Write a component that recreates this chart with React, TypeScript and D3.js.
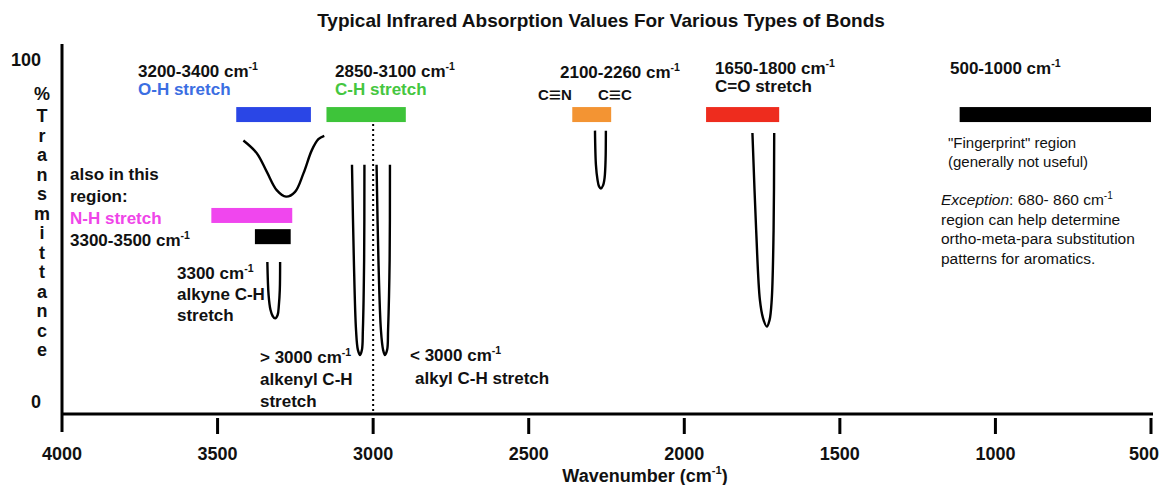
import React from "react";
import * as d3 from "d3";

// ---------- data ----------
const xTicks = [4000, 3500, 3000, 2500, 2000, 1500, 1000, 500];
const yTickLabels = [100, 0];
const yAxisTitle = "%Transmittance";

// absorption range bars: [from, to] wavenumber, level = % transmittance
const bandRanges: [number, number][] = [
  [3440, 3200], // O-H
  [3150, 2895], // C-H
  [2360, 2235], // C≡N / C≡C
  [1930, 1695], // C=O
  [1115, 500],  // fingerprint
  [3520, 3260], // N-H
  [3380, 3265], // 3300-3500 (black)
];
const bandLevels = [83.9, 83.9, 83.9, 83.9, 83.9, 54.4, 48.2];

// peak shapes
const ohWn = [3417, 3374, 3342, 3310, 3280, 3251, 3224, 3197, 3176, 3157];
const ohT = [76.3, 72.6, 67.2, 61.8, 59.9, 61.3, 66.7, 73.5, 76.7, 77.7];

const ch1Wn = [3068, 3062, 3055, 3049, 3042, 3036, 3033, 3029, 3028];
const ch1T = [69.2, 41.4, 20.9, 15.1, 13.6, 15.1, 20.9, 41.4, 69.2];

const ch2Wn = [2989, 2983, 2975, 2968, 2962, 2955, 2952, 2947, 2946];
const ch2T = [69.2, 41.4, 20.9, 15.1, 13.6, 15.1, 20.9, 41.4, 69.2];

const alkyneWn = [3340, 3336, 3330, 3323, 3315, 3307, 3303, 3300, 3299];
const alkyneT = [40.8, 31.1, 26.8, 25.0, 24.3, 25.3, 28.2, 32.6, 40.8];

const nitrileWn = [2287, 2284, 2279, 2274, 2268, 2261, 2256, 2253, 2252];
const nitrileT = [79.2, 69.2, 64.9, 62.9, 62.3, 63.2, 65.5, 70.6, 79.2];

const carbonylWn = [1781, 1769, 1757, 1747, 1735, 1726, 1719, 1713, 1711];
const carbonylT = [78.5, 50.1, 29.7, 24.4, 21.9, 23.8, 29.7, 50.1, 78.5];

const dividerWn = 3000;

// ---------- styles ----------
const FONT = "'Liberation Sans', Arial, Helvetica, sans-serif";
const bandColors = ["#2a46e6", "#3ec43a", "#f39433", "#ee2c1e", "#000000", "#f046ee", "#000000"];
const BLUE_TEXT = "#3b6ee2";
const GREEN_TEXT = "#45c640";
const MAGENTA_TEXT = "#ef45e8";

const x = d3.scaleLinear().domain([4000, 500]).range([62, 1151]);
const y = d3.scaleLinear().domain([0, 100]).range([401.5, 59.5]);

const line = d3
  .line<[number, number]>()
  .x((d) => x(d[0]))
  .y((d) => y(d[1]))
  .curve(d3.curveCatmullRom.alpha(0.5));

const zip = (a: number[], b: number[]) => a.map((v, i) => [v, b[i]] as [number, number]);

const peaks = [
  zip(ohWn, ohT),
  zip(ch1Wn, ch1T),
  zip(ch2Wn, ch2T),
  zip(alkyneWn, alkyneT),
  zip(nitrileWn, nitrileT),
  zip(carbonylWn, carbonylT),
];

function Cm({
  x: px,
  y: py,
  pre,
  size = 17,
  weight = "bold",
  fill = "#111",
  anchor = "start",
  post = "",
}: any) {
  return (
    <text x={px} y={py} fontFamily={FONT} fontSize={size} fontWeight={weight} fill={fill} textAnchor={anchor}>
      {pre}
      <tspan fontSize={size * 0.62} dy={-size * 0.42}>
        -1
      </tspan>
      <tspan dy={size * 0.42}>{post}</tspan>
    </text>
  );
}

function T({ x: px, y: py, children, size = 17, weight = "bold", fill = "#111", anchor = "start", style }: any) {
  return (
    <text x={px} y={py} fontFamily={FONT} fontSize={size} fontWeight={weight} fill={fill} textAnchor={anchor} style={style}>
      {children}
    </text>
  );
}

function Triple({ x: px, y: py, a, b }: any) {
  return (
    <text x={px} y={py} fontFamily={FONT} fontSize={15} fontWeight="bold" fill="#111">
      {a}
      <tspan fontSize={21} fontWeight="normal" dy={1.5} dx={0}>≡</tspan>
      <tspan dy={-1.5} dx={0}>{b}</tspan>
    </text>
  );
}

export default function App() {
  const axisY = 414;
  const axisX = 62;
  const letters = yAxisTitle.split("");
  return (
    <svg
      width={1160}
      height={485}
      style={{ position: "absolute", left: 0, top: 0, display: "block", background: "#fff" }}
    >
      <rect x={0} y={0} width={1160} height={485} fill="#fff" />
      {/* title */}
      <T x={601} y={27} size={19} anchor="middle">
        Typical Infrared Absorption Values For Various Types of Bonds
      </T>

      {/* axes */}
      <line x1={axisX} x2={axisX} y1={44} y2={432} stroke="#000" strokeWidth={3} />
      <line x1={axisX} x2={1153} y1={axisY} y2={axisY} stroke="#000" strokeWidth={3} />
      {xTicks.map((t, i) => (
        <g key={t}>
          {t !== 4000 && (
            <line x1={x(t)} x2={x(t)} y1={418} y2={434} stroke="#000" strokeWidth={3} />
          )}
          {i === xTicks.length - 1 ? (
            <T x={1159} y={460} size={18} anchor="end">
              {t}
            </T>
          ) : (
            <T x={x(t)} y={460} size={18} anchor="middle">
              {t}
            </T>
          )}
        </g>
      ))}
      <Cm x={645} y={482} size={18} anchor="middle" pre="Wavenumber (cm" post=")" />

      {yTickLabels.map((v) => (
        <T key={v} x={41} y={y(v) + 6.5} size={18} anchor="end">
          {v}
        </T>
      ))}
      {letters.map((c, i) => (
        <T key={i} x={42} y={i === 0 ? 100 : 122 + (i - 1) * 19.5} size={18} anchor="middle">
          {c}
        </T>
      ))}

      {/* divider at 3000 */}
      <line
        x1={x(dividerWn)}
        x2={x(dividerWn)}
        y1={124}
        y2={axisY}
        stroke="#000"
        strokeWidth={2}
        strokeDasharray="2,3"
      />

      {/* bands */}
      {bandRanges.map((r, i) => (
        <rect
          key={i}
          x={x(r[0])}
          width={x(r[1]) - x(r[0])}
          y={y(bandLevels[i]) - 7.5}
          height={15}
          fill={bandColors[i]}
        />
      ))}

      {/* peaks */}
      {peaks.map((p, i) => (
        <path key={i} d={line(p) || ""} fill="none" stroke="#000" strokeWidth={2.4} strokeLinejoin="round" />
      ))}

      {/* labels */}
      <Cm x={138} y={77} pre="3200-3400 cm" />
      <T x={138} y={95} fill={BLUE_TEXT}>O-H stretch</T>
      <Cm x={335} y={77} pre="2850-3100 cm" />
      <T x={335} y={95} fill={GREEN_TEXT}>C-H stretch</T>
      <Cm x={560} y={78} pre="2100-2260 cm" />
      <Triple x={538} y={100} a="C" b="N" />
      <Triple x={598} y={100} a="C" b="C" />
      <Cm x={715} y={74} pre="1650-1800 cm" />
      <T x={715} y={92}>C=O stretch</T>
      <Cm x={950} y={74} pre="500-1000 cm" />

      <T x={70} y={180}>also in this</T>
      <T x={70} y={202}>region:</T>
      <T x={70} y={224} fill={MAGENTA_TEXT}>N-H stretch</T>
      <Cm x={70} y={246} pre="3300-3500 cm" />

      <Cm x={177} y={279} pre="3300 cm" />
      <T x={177} y={300}>alkyne C-H</T>
      <T x={177} y={321}>stretch</T>

      <Cm x={260} y={363} pre="> 3000 cm" />
      <T x={260} y={385}>alkenyl C-H</T>
      <T x={260} y={407}>stretch</T>

      <Cm x={410} y={361} pre="< 3000 cm" />
      <T x={415} y={384}>alkyl C-H stretch</T>

      <T x={948} y={148} size={15} weight="normal">"Fingerprint" region</T>
      <T x={948} y={167} size={15} weight="normal">(generally not useful)</T>
      <text x={941} y={205} fontFamily={FONT} fontSize={15.5} fill="#111">
        <tspan fontStyle="italic">Exception</tspan>: 680- 860 cm
        <tspan fontSize={10} dy={-6}>-1</tspan>
      </text>
      <T x={941} y={225} size={15.5} weight="normal">region can help determine</T>
      <T x={941} y={244} size={15.5} weight="normal">ortho-meta-para substitution</T>
      <T x={941} y={264} size={15.5} weight="normal">patterns for aromatics.</T>
    </svg>
  );
}
